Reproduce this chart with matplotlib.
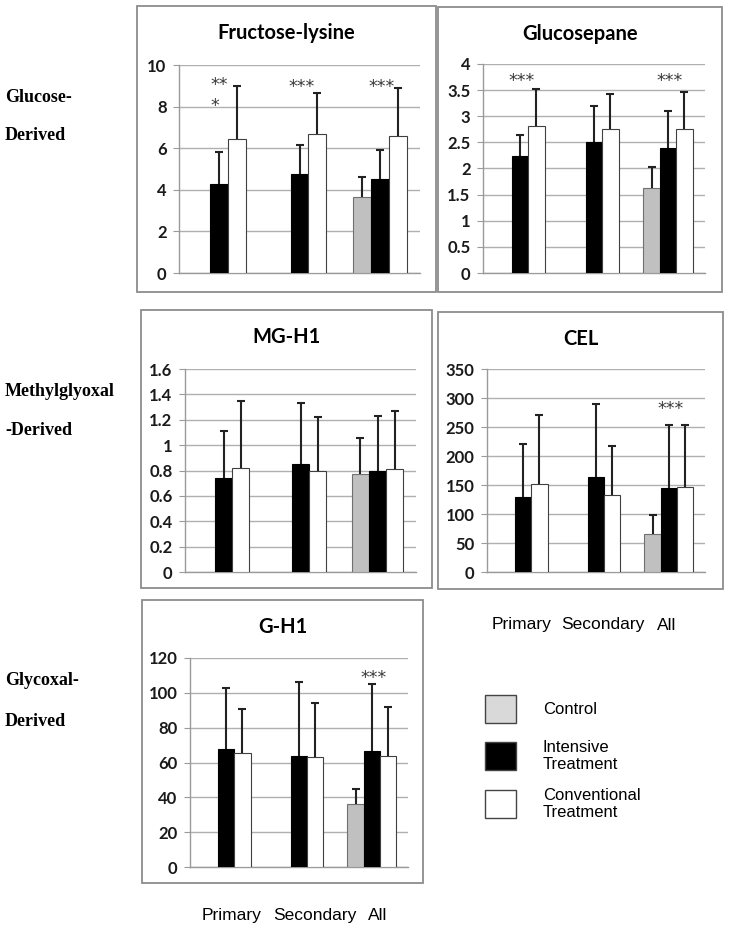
import numpy as np
import matplotlib
matplotlib.use('Agg')
import matplotlib.pyplot as plt
from matplotlib.patches import Rectangle

# 数据
groups = ['Primary', 'Secondary', 'All']
series = ['Control', 'Intensive\nTreatment', 'Conventional\nTreatment']
nan = np.nan

fl_mean = [[nan, nan, 3.65], [4.3, 4.75, 4.5], [6.45, 6.7, 6.6]]
fl_err = [[nan, nan, 0.95], [1.5, 1.4, 1.4], [2.55, 1.95, 2.3]]
gp_mean = [[nan, nan, 1.63], [2.23, 2.5, 2.4], [2.82, 2.75, 2.75]]
gp_err = [[nan, nan, 0.4], [0.42, 0.7, 0.7], [0.7, 0.67, 0.71]]
mg_mean = [[nan, nan, 0.77], [0.74, 0.85, 0.80], [0.82, 0.80, 0.81]]
mg_err = [[nan, nan, 0.29], [0.37, 0.48, 0.43], [0.53, 0.42, 0.46]]
cel_mean = [[nan, nan, 65], [130, 163, 145], [152, 132, 146]]
cel_err = [[nan, nan, 33], [90, 126, 109], [119, 86, 108]]
gh_mean = [[nan, nan, 36], [68, 64, 66.5], [65.5, 63, 64]]
gh_err = [[nan, nan, 8.5], [34.5, 42, 38.5], [25.5, 31, 28]]

# 显著性标记: (组序号, y值, 文本)
fl_stars = [(1, 8.95, '***'), (2, 8.95, '***')]
gp_stars = [(0, 3.67, '***'), (2, 3.67, '***')]
cel_stars = [(2, 281, '***')]
gh_stars = [(2, 108.5, '***')]

colors = ['#c0c0c0', 'black', 'white']
edges = ['#707070', 'black', '#404040']

W, H = 729, 930
fig = plt.figure(figsize=(W / 100, H / 100), dpi=100)
w = 1 / 4.5


def px_rect(x0, y0, x1, y1):
    # 像素坐标 (左上为原点) 转换为 figure 比例
    return [x0 / W, 1 - y1 / H, (x1 - x0) / W, (y1 - y0) / H]


def draw_box(x0, y0, x1, y1):
    fig.patches.append(Rectangle((x0 / W, 1 - y1 / H), (x1 - x0) / W, (y1 - y0) / H,
                                 transform=fig.transFigure, fill=False,
                                 edgecolor='#8c8c8c', linewidth=1.3))


def draw_panel(rect, box, title, mean, err, ymax, step, stars):
    draw_box(*box)
    ax = fig.add_axes(px_rect(*rect))
    x = np.arange(len(groups))
    for i in range(3):
        m = np.array(mean[i], dtype=float)
        e = np.array(err[i], dtype=float)
        ax.bar(x + (i - 1) * w, m, width=w, color=colors[i], edgecolor=edges[i],
               linewidth=0.8, zorder=3)
        eb = ax.errorbar(x + (i - 1) * w, m, yerr=[np.zeros_like(e), e], fmt='none',
                         ecolor='#222222', elinewidth=1.5, capsize=3.2, capthick=1.5, zorder=4)
        eb[1][0].set_visible(False)  # 只保留上方的误差线帽
    for g, yv, s in stars:
        ax.text(g + 0.1 * w, yv, s, ha='center', va='center', fontsize=12.5,
                color='#3a3a3a', family='DejaVu Sans')
    ax.set_xlim(-0.5, 2.5)
    ax.set_ylim(0, ymax)
    ticks = np.arange(0, ymax + step / 2, step)
    ax.set_yticks(ticks)
    ax.set_yticklabels(['%g' % t for t in ticks])
    ax.set_xticks([])
    ax.grid(axis='y', color='#b0b0b0', linewidth=1.0, zorder=0)
    for s in ['top', 'right']:
        ax.spines[s].set_visible(False)
    for s in ['left', 'bottom']:
        ax.spines[s].set_color('#9a9a9a')
        ax.spines[s].set_linewidth(1.0)
    ax.tick_params(axis='y', length=4, color='#9a9a9a', pad=5)
    for lab in ax.get_yticklabels():
        lab.set_fontfamily('Lato')
        lab.set_fontweight('bold')
        lab.set_fontsize(12)
        lab.set_color('#1a1a1a')
    bx0, by0, bx1, by1 = box
    fig.text((bx0 + bx1) / 2 / W, 1 - (by0 + 27) / H, title, ha='center', va='center',
             fontsize=14.5, fontweight='bold', family='Lato')
    return ax


ax1 = draw_panel((179, 65, 420, 273), (137, 6, 436, 292), 'Fructose-lysine',
                 fl_mean, fl_err, 10, 2, fl_stars)
# 第一组的 "***" 折成两行
ax1.text(0 + 0.1 * w - 0.13, 9.05, '**', ha='left', va='center', fontsize=12.5,
         color='#3a3a3a', family='DejaVu Sans')
ax1.text(0 + 0.1 * w - 0.13, 8.05, '*', ha='left', va='center', fontsize=12.5,
         color='#3a3a3a', family='DejaVu Sans')

draw_panel((483, 64, 705, 273), (438, 7, 722, 292), 'Glucosepane',
           gp_mean, gp_err, 4, 0.5, gp_stars)
draw_panel((185, 369, 416, 572), (141, 310, 432, 588), 'MG-H1',
           mg_mean, mg_err, 1.6, 0.2, [])
ax4 = draw_panel((487, 369, 705, 572), (438, 312, 723, 589), 'CEL',
                 cel_mean, cel_err, 350, 50, cel_stars)
ax5 = draw_panel((190, 658, 408, 867), (142, 600, 423, 883), 'G-H1',
                 gh_mean, gh_err, 120, 20, gh_stars)

# 组别标签 (在框外, 按原图的像素位置)
label_pos = [([522, 603, 667], 625), ([232, 315, 378], 915)]
for xs, ypx in label_pos:
    for g, xpx in zip(groups, xs):
        fig.text(xpx / W, 1 - ypx / H, g, ha='center', va='center', fontsize=12.5,
                 family='Liberation Sans')

# 左侧分类标签
left_labels = [('Glucose-', 97), ('Derived', 135), ('Methylglyoxal', 392),
               ('-Derived', 430), ('Glycoxal-', 680), ('Derived', 721)]
for s, ypx in left_labels:
    fig.text(5 / W, 1 - ypx / H, s, ha='left', va='center', fontsize=13,
             fontweight='bold', family='Liberation Serif')

# 图例
leg_colors = ['#d9d9d9', 'black', 'white']
leg_y = [709, 756, 804]
for c, s, yc in zip(leg_colors, series, leg_y):
    fig.patches.append(Rectangle((485 / W, 1 - (yc + 14) / H), 31 / W, 28 / H,
                                 transform=fig.transFigure, facecolor=c,
                                 edgecolor='#444444', linewidth=1.0))
    fig.text(543 / W, 1 - yc / H, s, ha='left', va='center', fontsize=12,
             family='Liberation Sans', linespacing=1.2)

fig.savefig('out.png', dpi=100, facecolor='white')
